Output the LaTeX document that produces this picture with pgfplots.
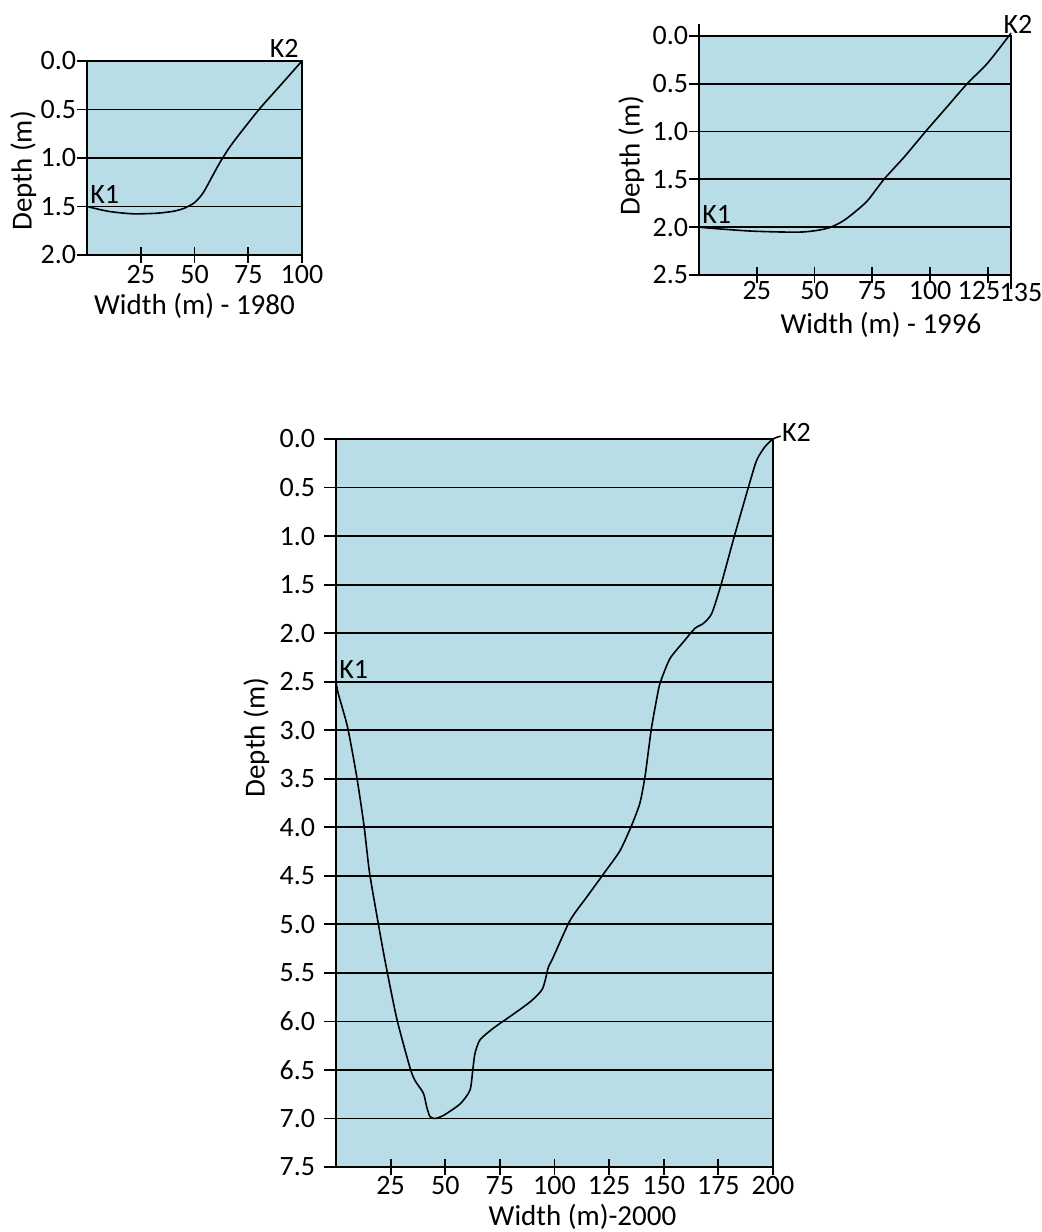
\documentclass[border=0pt]{standalone}
\usepackage{fontspec}
\setmainfont{Carlito}
\usepackage{pgfplots}
\pgfplotsset{compat=1.18}
\definecolor{riverfill}{RGB}{184,221,230}
\pgfplotsset{
  depthstyle/.style={
    scale only axis, clip=false,
    y dir=reverse, xmin=0, ymin=0,
    axis background/.style={fill=riverfill},
    axis line style={black, line width=1pt},
    ymajorgrids, grid style={black, line width=0.9pt},
    ytick pos=left, xtick pos=bottom,
    xtick align=center, ytick align=outside,
    xtick style={black, line width=0.9pt, /pgfplots/major tick length=8pt},
    ytick style={black, line width=0.9pt, /pgfplots/major tick length=5pt},
    every tick label/.append style={font=\fontsize{14}{16}\selectfont},
    /pgf/number format/assume math mode=true,
    yticklabel style={/pgf/number format/fixed, /pgf/number format/fixed zerofill, /pgf/number format/precision=1, inner sep=1pt},
    xticklabel style={inner sep=1pt},
    label style={font=\fontsize{14.5}{16}\selectfont},
    xlabel style={inner sep=0pt},
    ylabel style={inner sep=1pt},
  }
}
\begin{document}
\begin{tikzpicture}
\useasboundingbox (0,0) rectangle (521pt,616pt);

% ---- 1980 ----
\begin{axis}[depthstyle,
  at={(43.5pt,488.5pt)}, anchor=south west,
  width=107.5pt, height=97pt,
  xmax=100, ymax=2,
  xtick={25,50,75,100}, ytick={0,0.5,1,1.5,2},
  xticklabel style={yshift=-2pt},
  xlabel={Width (m) - 1980}, ylabel={Depth (m)},
  xlabel style={yshift=-3.5pt},
  ylabel style={at={(ticklabel cs:0.433)}},
]
\addplot[black, line width=0.8pt, smooth, tension=0.45] coordinates {
(0,1.5) (10,1.55) (21,1.575) (32,1.57) (40,1.55) (45,1.52) (50,1.46) (54,1.36)
(58,1.2) (62,1.04) (66,0.9) (70,0.78) (80,0.5) (90,0.25) (100,0)
};
\node[anchor=south west, inner sep=1.5pt, font=\fontsize{14}{16}\selectfont] at (axis cs:0,1.5) {K1};
\node[anchor=south east, inner sep=1.5pt, font=\fontsize{14}{16}\selectfont] at (axis cs:100,0) {K2};
\end{axis}

% ---- 1996 ----
\begin{axis}[depthstyle,
  at={(349.5pt,478.5pt)}, anchor=south west,
  width=156pt, height=119.5pt,
  xmax=135, ymax=2.5,
  xtick={25,50,75,100}, ytick={0,0.5,1,1.5,2,2.5},
  extra x ticks={125}, extra x tick labels={125},
  extra x tick style={xticklabel style={xshift=-4.5pt}},
  xlabel={Width (m) - 1996}, ylabel={Depth (m)},
  xlabel style={xshift=13pt, yshift=-0.5pt},
  ylabel shift=2pt,
]
\addplot[black, line width=0.8pt, smooth, tension=0.45] coordinates {
(0,2.0) (10,2.02) (22,2.04) (35,2.05) (45,2.05) (52,2.03) (57,2.0) (62,1.94)
(67,1.85) (73,1.72) (80,1.5) (89,1.26) (98,1.0) (107,0.75) (116,0.5) (125,0.28) (135,-0.03)
};
\draw[line width=1pt] (axis cs:0,0) -- ++(0,7.5pt);
\draw[line width=0.9pt] (axis cs:135,2.5) ++(0,4pt) -- ++(0,-8pt);
\node[anchor=north, inner sep=1pt, font=\fontsize{14}{16}\selectfont, xshift=5pt, yshift=-3pt] at (axis cs:135,2.5) {135};
\node[anchor=south west, inner sep=1.5pt, font=\fontsize{14}{16}\selectfont] at (axis cs:0,2) {K1};
\node[anchor=south, inner sep=1pt, font=\fontsize{14}{16}\selectfont] at (axis cs:138,0) {K2};
\end{axis}

% ---- 2000 ----
\begin{axis}[depthstyle,
  at={(168pt,32.5pt)}, anchor=south west,
  width=218.5pt, height=364pt,
  xmax=200, ymax=7.5,
  xtick={25,50,75,100,125,150,175,200}, ytick={0,0.5,...,7.5},
  ytick style={/pgfplots/major tick length=6pt},
  yticklabel style={xshift=-5pt},
  xticklabel style={yshift=-1.5pt},
  xlabel={Width (m)-2000}, ylabel={Depth (m)},
  xlabel style={xshift=14pt, yshift=-3.5pt},
  ylabel style={at={(ticklabel cs:0.59)}},
  ylabel shift=3pt,
]
\addplot[black, line width=0.8pt, smooth, tension=0.4] coordinates {
(0,2.5) (1,2.62) (5.3,2.97) (9.5,3.48) (12.8,3.98) (15.3,4.46) (19.1,4.96) (22.4,5.37)
(27.8,5.97) (33.9,6.48) (36.2,6.61) (40,6.74) (41.5,6.88) (43,6.98) (45.3,7.0) (49.1,6.97)
(56.8,6.85) (61.3,6.71) (62.6,6.5) (63.6,6.33) (65.9,6.19) (72,6.07) (79.6,5.95) (88.8,5.80)
(94.1,5.68) (95.7,5.58) (97.2,5.44) (99.2,5.35) (107.1,4.96) (114.7,4.72) (123.1,4.46)
(130,4.24) (135.3,3.98) (139.1,3.75) (141.4,3.48) (143,3.21) (144.5,2.96) (147.5,2.59)
(149,2.47) (152.9,2.26) (159,2.09) (164.3,1.95) (168.1,1.90) (171.9,1.80) (176.1,1.51)
(182.2,1.01) (188.7,0.50) (192.5,0.22) (196.3,0.08) (200,0.0) (203.5,-0.03)
};
\node[anchor=south west, inner sep=1.5pt, font=\fontsize{14}{16}\selectfont] at (axis cs:0,2.5) {K1};
\node[anchor=west, inner sep=0.5pt, yshift=2pt, font=\fontsize{14}{16}\selectfont] at (axis cs:203.5,-0.03) {K2};
\end{axis}
\end{tikzpicture}
\end{document}
